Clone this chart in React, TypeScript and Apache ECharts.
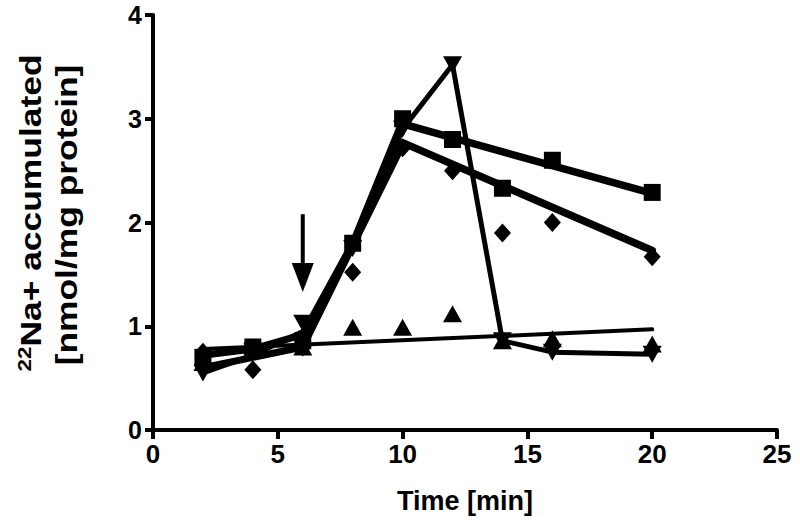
import React, { useEffect, useRef } from "react";
import * as echarts from "echarts";

// Time points (min)
const timePoints = [2, 4, 6, 8, 10, 12, 14, 16, 20];

// Measured values (nmol/mg protein)
const squareValues = [0.7, 0.8, 0.86, 1.8, 3.0, 2.8, 2.33, 2.6, 2.29];
const diamondValues = [0.75, 0.58, 0.8, 1.52, 2.72, 2.5, 1.9, 2.0, 1.67];
const invTriangleValues = [0.55, 0.76, 1.03, 1.75, 2.9, 3.52, 0.86, 0.75, 0.73];
const triangleValues = [0.65, 0.8, 0.8, 0.99, 0.99, 1.12, 0.86, 0.88, 0.83];

// Fitted / connecting curves
const squareRise: [number, number][] = [[2, 0.72], [4, 0.78], [6, 0.92], [8, 1.8], [10, 2.98]];
const squareDecay: [number, number][] = [[10, 2.95], [20, 2.28]];
const diamondRise: [number, number][] = [[2, 0.6], [6, 0.8], [10, 2.75]];
const diamondDecay: [number, number][] = [[10, 2.77], [20, 1.73]];
const invTriangleCurve: [number, number][] = [
  [2, 0.55], [4, 0.72], [6, 0.95], [8, 1.75], [10, 2.9], [12, 3.52], [14, 0.86], [16, 0.75], [20, 0.73],
];
const triangleFit: [number, number][] = [[2, 0.78], [20, 0.97]];

// Arrow annotation (data units)
const arrowX = 6;
const arrowTop = 2.08;
const arrowHeadCenter = 1.47;

const xTicks = [0, 5, 10, 15, 20, 25];
const yTicks = [0, 1, 2, 3, 4];

const FONT = "'Liberation Sans', Arial, Helvetica, sans-serif";

export default function App() {
  const ref = useRef<HTMLDivElement>(null);

  useEffect(() => {
    if (!ref.current) return;
    document.body.style.margin = "0";
    const chart = echarts.init(ref.current, undefined, { renderer: "svg" });

    const pts = (vals: number[]) => timePoints.map((t, i) => [t, vals[i]]);
    const lineSeries = (data: [number, number][], width: number) => ({
      type: "line",
      data,
      showSymbol: false,
      symbol: "none",
      lineStyle: { color: "#000", width, cap: "round", join: "round" },
      z: 2,
      silent: true,
    });
    const markerSeries = (vals: number[], symbol: string, size: any, rotate = 0) => ({
      type: "scatter",
      data: pts(vals),
      symbol,
      symbolSize: size,
      symbolRotate: rotate,
      itemStyle: { color: "#000", opacity: 1 },
      z: 5,
      silent: true,
    });

    chart.setOption({
      animation: false,
      grid: { left: 153, right: 23, top: 15, bottom: 100 },
      xAxis: {
        type: "value",
        min: xTicks[0],
        max: xTicks[xTicks.length - 1],
        interval: 5,
        name: "Time [min]",
        nameLocation: "middle",
        nameGap: 57,
        nameTextStyle: { fontFamily: FONT, fontWeight: "bold", fontSize: 27, color: "#000" },
        axisLine: { show: true, lineStyle: { color: "#000", width: 4 } },
        axisTick: { show: true, length: 9, lineStyle: { color: "#000", width: 4 } },
        axisLabel: { margin: 11, fontFamily: FONT, fontWeight: "bold", fontSize: 26, color: "#000" },
        splitLine: { show: false },
      },
      yAxis: {
        type: "value",
        min: yTicks[0],
        max: yTicks[yTicks.length - 1],
        interval: 1,
        axisLine: { show: true, lineStyle: { color: "#000", width: 4 } },
        axisTick: { show: true, length: 8, lineStyle: { color: "#000", width: 4 } },
        axisLabel: {
          margin: 11,
          fontFamily: FONT,
          fontWeight: "bold",
          fontSize: 25,
          lineHeight: 20,
          color: "#000",
        },
        splitLine: { show: false },
      },
      graphic: [
        {
          type: "text",
          x: 30,
          y: 213,
          rotation: Math.PI / 2,
          scaleX: 1.18,
          style: {
            text: "{s|22}{n|Na+ accumulated}",
            align: "center",
            verticalAlign: "middle",
            fill: "#000",
            rich: {
              s: { fontFamily: FONT, fontWeight: "bold", fontSize: 19, verticalAlign: "top", fill: "#000" },
              n: { fontFamily: FONT, fontWeight: "bold", fontSize: 30, fill: "#000" },
            },
          },
        },
        {
          type: "text",
          x: 66,
          y: 215,
          rotation: Math.PI / 2,
          scaleX: 1.18,
          style: {
            text: "[nmol/mg protein]",
            align: "center",
            verticalAlign: "middle",
            fontFamily: FONT,
            fontWeight: "bold",
            fontSize: 30,
            fill: "#000",
          },
        },
      ],
      series: [
        lineSeries(triangleFit, 4),
        lineSeries(invTriangleCurve, 5),
        lineSeries(squareRise, 7),
        lineSeries(squareDecay, 7.5),
        lineSeries(diamondRise, 7),
        lineSeries(diamondDecay, 7.5),
        markerSeries(squareValues, "rect", 17),
        markerSeries(diamondValues, "diamond", [17, 19]),
        markerSeries(invTriangleValues, "triangle", [19, 17], 180),
        markerSeries(triangleValues, "triangle", [19, 17]),
        {
          type: "line",
          data: [[arrowX, arrowTop], [arrowX, arrowHeadCenter + 0.05]],
          symbol: "none",
          lineStyle: { color: "#000", width: 4 },
          silent: true,
          z: 3,
        },
        {
          type: "scatter",
          data: [[arrowX, arrowHeadCenter]],
          symbol: "triangle",
          symbolRotate: 180,
          symbolSize: [22, 29],
          itemStyle: { color: "#000", opacity: 1 },
          silent: true,
          z: 3,
        },
      ],
    });

    return () => chart.dispose();
  }, []);

  return <div ref={ref} style={{ width: 800, height: 530 }} />;
}
